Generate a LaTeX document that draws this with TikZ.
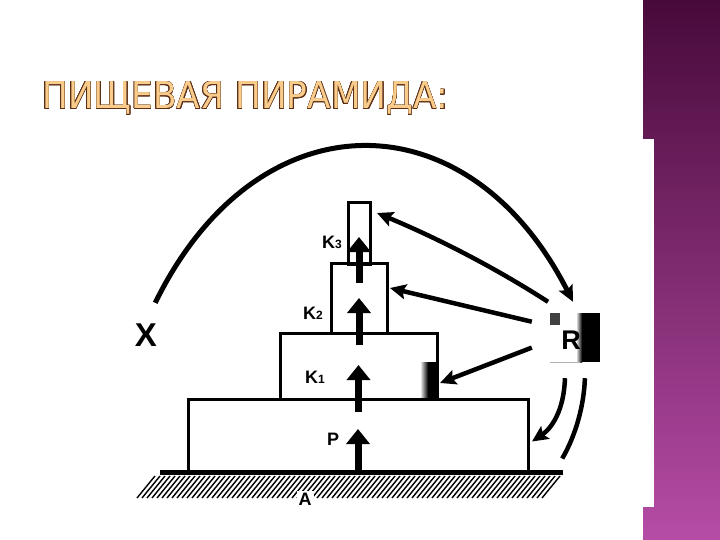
\documentclass[tikz,border=0pt]{standalone}
\usepackage{fontspec}
\setmainfont{Liberation Sans}
\newfontfamily\titlefont{DejaVu Sans}
\usepackage{contour}
\usetikzlibrary{arrows.meta}

\definecolor{plumtop}{RGB}{72,10,58}
\definecolor{plumbottom}{RGB}{182,76,166}
\definecolor{titlefill}{RGB}{249,204,140}
\definecolor{titleedge}{RGB}{92,46,22}
\contourlength{0.5pt}

\begin{document}
\begin{tikzpicture}[x=1pt, y=-1pt,
    block/.style={draw, line width=3pt, inner sep=0pt, outer sep=0pt},
    lbl/.style={font=\bfseries\fontsize{18}{18}\selectfont, inner sep=0pt},
    up/.style={line width=7pt, -{Triangle[length=15pt,width=23pt]}},
    feed/.style={line width=4.5pt, -{Stealth[length=16pt,width=15pt,inset=3pt]}}]
    \useasboundingbox (0,0) rectangle (720,540);
    \fill[white] (0,0) rectangle (720,540);
    \fill[top color=plumtop, bottom color=plumbottom] (643,0) rectangle (720,540);
    \fill[white] (640,139) rectangle (654,507);

    \node[anchor=base west, inner sep=0pt, font=\titlefont\fontsize{37}{37}\selectfont] (title) at (42,109)
        {\scalebox{0.93}[1]{\textcolor{titlefill}{\contour{titleedge}{ПИЩЕВАЯ ПИРАМИДА:}}}};

    % ground
    \foreach \i in {0,...,81}
        \draw[line width=1.4pt] (137+5*\i,498) -- ++(18,-22);
    \node[fill, minimum width=403pt, minimum height=5pt, inner sep=0pt] (ground) at (361.5,472.5) {};
    \node[lbl, fill=white, inner sep=2pt] (A) at (305,499) {A};

    % smudges
    \fill[left color=white, right color=black] (420,362) rectangle (428,400);
    \fill (428,362) rectangle (437,400);
    \fill[left color=white, right color=black] (576,313) rectangle (582,362);
    \fill (582,313) rectangle (600,362);
    \fill[black!75] (550,313) rectangle (560,325);
    \draw[black!30, line width=1pt] (550,362) -- (580,362);

    % levels
    \node[block, minimum width=340pt, minimum height=73pt] (P) at (358,435.5) {};
    \node[block, minimum width=157pt, minimum height=66pt] (K1) at (358.5,366) {};
    \node[block, minimum width=56pt, minimum height=70pt] (K2) at (359,298) {};
    \node[block, minimum width=22pt, minimum height=61pt] (K3) at (359,233.5) {};

    \node[lbl] (lP) at (333,439) {P};
    \node[lbl] (lK1) at (315,377) {K{\fontsize{12}{12}\selectfont 1}};
    \node[lbl] (lK2) at (313,313) {K{\fontsize{12}{12}\selectfont 2}};
    \node[lbl] (lK3) at (332,242) {K{\fontsize{12}{12}\selectfont 3}};

    \node[font=\bfseries\fontsize{33}{33}\selectfont, minimum size=64pt, inner sep=0pt] (X) at (146,335) {X};
    \node[font=\bfseries\fontsize{27}{27}\selectfont, minimum width=78pt, minimum height=76pt, inner sep=0pt] (R) at (571,340) {R};

    \draw[up] (P.south) -- ++(0,-43);
    \draw[up] ([shift={(0,13)}]K1.south) -- ++(0,-47);
    \draw[up] ([shift={(0,12)}]K2.south) -- ++(0,-47);
    \draw[up] ([shift={(0,19)}]K3.south) -- ++(0,-46);

    \draw[feed, line width=5pt] (X.74) .. controls (257,95) and (468,95) .. (R.87);
    \draw[feed] (R.121) .. controls (494,267) and (437,238) .. ([shift={(7,10)}]K3.north east);
    \draw[feed] (R.155) -- ([shift={(3,-10)}]K2.east);
    \draw[feed] (R.191) -- ([shift={(3,17)}]K1.east);
    \draw[feed] (R.261) .. controls (564,410) and (552,428) .. ([shift={(4,6)}]P.east);
    \draw[line width=4.5pt] (R.290) .. controls (584,405) and (576,435) .. ([shift={(-1,-14)}]ground.east);
\end{tikzpicture}
\end{document}
